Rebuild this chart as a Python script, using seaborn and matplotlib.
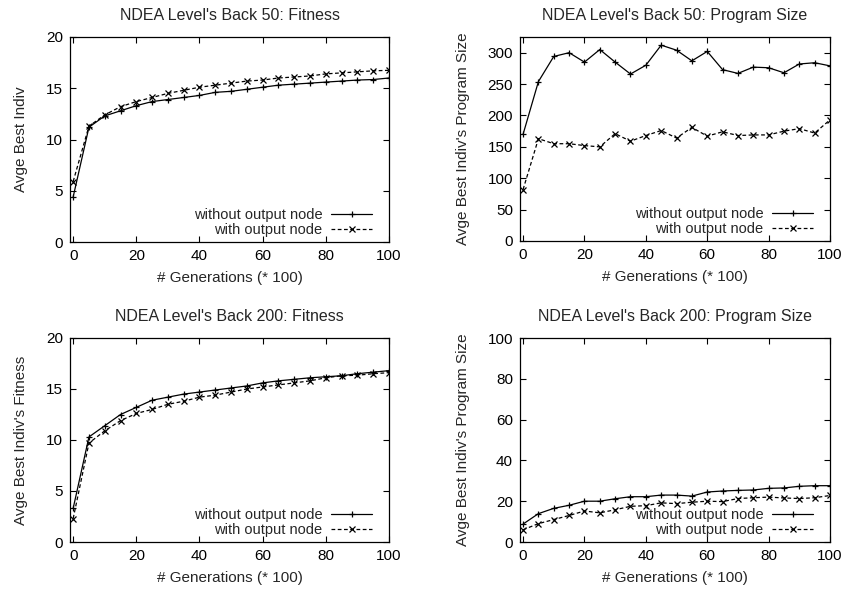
import numpy as np
import pandas as pd
import matplotlib
matplotlib.use("Agg")
import matplotlib.pyplot as plt
import seaborn as sns

# ─────────────────────────────────────────────
# Data
# ─────────────────────────────────────────────
generations = list(range(0, 101, 5))
series_labels = ["without output node", "with output node"]

fit50_without = [4.4, 11.2, 12.3, 12.8, 13.3, 13.7, 13.9, 14.1, 14.3, 14.6, 14.7,
                 14.9, 15.1, 15.3, 15.4, 15.5, 15.6, 15.7, 15.8, 15.85, 16.0]
fit50_with    = [5.9, 11.3, 12.4, 13.2, 13.7, 14.1, 14.5, 14.8, 15.1, 15.3, 15.5,
                 15.7, 15.8, 16.0, 16.1, 16.2, 16.4, 16.5, 16.6, 16.7, 16.75]

size50_without = [170, 254, 294, 300, 285, 305, 285, 266, 280, 312, 304,
                  287, 302, 273, 267, 277, 276, 268, 282, 284, 279]
size50_with    = [82, 163, 155, 155, 152, 150, 171, 159, 168, 176, 164,
                  181, 167, 174, 168, 169, 169, 175, 179, 172, 193]

fit200_without = [3.3, 10.3, 11.4, 12.5, 13.2, 13.9, 14.2, 14.5, 14.7, 14.9, 15.1,
                  15.3, 15.6, 15.8, 15.95, 16.1, 16.2, 16.3, 16.5, 16.65, 16.8]
fit200_with    = [2.3, 9.7, 10.9, 11.9, 12.6, 13.0, 13.5, 13.8, 14.2, 14.4, 14.7,
                  15.0, 15.2, 15.4, 15.6, 15.8, 16.1, 16.3, 16.35, 16.5, 16.6]

size200_without = [8.8, 13.9, 16.5, 18.0, 20.0, 20.0, 21.2, 22.2, 22.2, 23.0, 23.0,
                   22.5, 24.5, 25.0, 25.3, 25.5, 26.3, 26.5, 27.3, 27.6, 27.6]
size200_with    = [6.0, 9.0, 11.0, 13.0, 15.2, 14.3, 15.8, 17.5, 17.8, 19.2, 18.8,
                   19.5, 20.0, 19.8, 21.3, 21.7, 22.0, 21.6, 21.3, 21.7, 22.8]

titles = ["NDEA Level's Back 50: Fitness", "NDEA Level's Back 50: Program Size",
          "NDEA Level's Back 200: Fitness", "NDEA Level's Back 200: Program Size"]
ylabels = ["Avge Best Indiv", "Avge Best Indiv's Program Size",
           "Avge Best Indiv's Fitness", "Avge Best Indiv's Program Size"]
xlabel = "# Generations (* 100)"

panels = [
    (fit50_without, fit50_with, (0, 20), [0, 5, 10, 15, 20]),
    (size50_without, size50_with, (0, 325), [0, 50, 100, 150, 200, 250, 300]),
    (fit200_without, fit200_with, (0, 20), [0, 5, 10, 15, 20]),
    (size200_without, size200_with, (0, 100), [0, 20, 40, 60, 80, 100]),
]

# ─────────────────────────────────────────────
# Style
# ─────────────────────────────────────────────
sns.set_theme(style="ticks")
plt.rcParams["font.family"] = ["Liberation Sans", "DejaVu Sans"]

fig = plt.figure(figsize=(8.46, 5.9), dpi=100)
W, H = 846, 590
boxes = [(70, 37, 389, 242), (520, 37, 830, 241),
         (70, 338, 389, 542), (520, 338, 830, 542)]

styles = [("+", "-"), ("x", (0, (3, 2)))]

for i, (without, with_, ylim, yticks) in enumerate(panels):
    l, t, r, b = boxes[i]
    ax = fig.add_axes([l / W, 1 - b / H, (r - l) / W, (b - t) / H])

    for vals, label, (mk, ls) in zip([without, with_], series_labels, styles):
        sns.lineplot(x=generations, y=vals, label=label, ax=ax,
                     color="black", linewidth=0.9, linestyle=ls,
                     marker=mk, markersize=5, markeredgewidth=0.9,
                     markeredgecolor="black")

    ax.set_xlim(-1, 100)
    ax.set_ylim(*ylim)
    ax.set_xticks([0, 20, 40, 60, 80, 100])
    ax.set_yticks(yticks)
    ax.tick_params(direction="in", top=True, right=True, length=4, width=0.8,
                   labelsize=11, pad=5, colors="black")
    for sp in ax.spines.values():
        sp.set_linewidth(0.9)
        sp.set_color("black")

    ax.set_title(titles[i], fontsize=11.5, pad=12)
    ax.set_xlabel(xlabel, fontsize=11, labelpad=6)
    ax.set_ylabel(ylabels[i], fontsize=11, labelpad=13)

    # legend: text right-aligned, line sample after the text (gnuplot style)
    ax.legend(loc="lower right", frameon=False, markerfirst=False,
              fontsize=10.5, handlelength=2.8, handletextpad=0.6,
              labelspacing=0.05, borderaxespad=0, borderpad=0,
              bbox_to_anchor=(1 - 17 / (r - l), 0.025))

plt.savefig("out.png", dpi=100)
